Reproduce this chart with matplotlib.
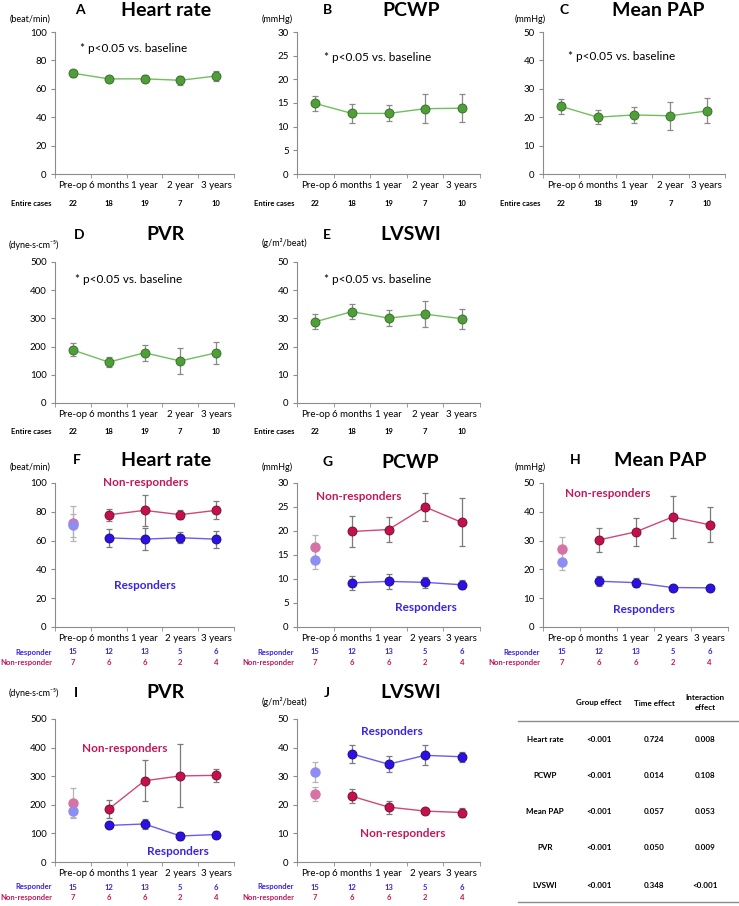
import numpy as np
import matplotlib
matplotlib.use('Agg')
from matplotlib import pyplot as plt
from matplotlib.lines import Line2D

plt.rcParams['font.family'] = ['Lato', 'DejaVu Sans']

W, H = 739, 906

# ---------------- data ----------------
times_all = ['Pre-op', '6 months', '1 year', '2 year', '3 years']
times_grp = ['Pre-op', '6 months', '1 year', '2 years', '3 years']
n_entire = [22, 18, 19, 7, 10]
n_resp = [15, 12, 13, 5, 6]
n_nonresp = [7, 6, 6, 2, 4]

# entire cases: mean and error
hr_all = [71, 67, 67, 66, 69]
hr_all_err = [2.5, 2, 2.5, 3, 3.5]
pcwp_all = [14.9, 12.8, 12.8, 13.8, 13.9]
pcwp_all_err = [1.6, 2.0, 1.7, 3.0, 2.9]
mpap_all = [23.8, 20.0, 20.8, 20.5, 22.2]
mpap_all_err = [2.5, 2.5, 2.8, 4.9, 4.4]
pvr_all = [188, 145, 178, 149, 178]
pvr_all_err = [23, 19, 29, 47, 38]
lvswi_all = [28.8, 32.4, 30.1, 31.5, 29.9]
lvswi_all_err = [2.6, 2.7, 2.8, 4.5, 3.6]

# responders / non-responders (first value = pre-op)
hr_r = [70.7, 61.9, 61, 62, 61]
hr_r_err = [8, 6, 7.5, 4, 5.8]
hr_nr = [71.9, 77.9, 81, 78, 81]
hr_nr_err = [12, 4, 11, 3.3, 6.2]
pcwp_r = [14.05, 9.2, 9.5, 9.3, 8.8]
pcwp_r_err = [2.0, 1.5, 1.5, 1.1, 0.95]
pcwp_nr = [16.7, 19.9, 20.3, 25.0, 21.8]
pcwp_nr_err = [2.5, 3.2, 2.6, 3.0, 5.0]
mpap_r = [22.7, 15.9, 15.4, 13.7, 13.6]
mpap_r_err = [3.0, 1.7, 1.6, 0.7, 0.5]
mpap_nr = [27.0, 30.2, 33.0, 38.2, 35.5]
mpap_nr_err = [4.2, 4.3, 5.0, 7.2, 6.0]
pvr_r = [180, 128, 133, 91, 96]
pvr_r_err = [25, 8, 17, 14, 13]
pvr_nr = [207, 185, 284, 301, 303]
pvr_nr_err = [50, 31, 72, 110, 22]
lvswi_r = [31.5, 37.8, 34.2, 37.3, 36.8]
lvswi_r_err = [3.4, 3.1, 2.9, 3.5, 1.7]
lvswi_nr = [23.8, 23.0, 19.2, 17.8, 17.3]
lvswi_nr_err = [2.3, 2.5, 2.3, 0.9, 1.7]

table_rows = ['Heart rate', 'PCWP', 'Mean PAP', 'PVR', 'LVSWI']
group_effect = ['<0.001', '<0.001', '<0.001', '<0.001', '<0.001']
time_effect = ['0.724', '0.014', '0.057', '0.050', '0.348']
interaction_effect = ['0.008', '0.108', '0.053', '0.009', '<0.001']

# ---------------- styles ----------------
GREEN, GREEN_EDGE, GREEN_LINE = '#4f9e3a', '#2f6a22', '#72bd5e'
RED, RED_EDGE, RED_LINE = '#c4104c', '#6e0a2c', '#d0477a'
BLUE, BLUE_EDGE, BLUE_LINE = '#2c10e4', '#170a7a', '#6a5cf0'
PINK_PRE, BLUE_PRE = '#d672a4', '#8e8ef2'
R_TXT, NR_TXT = '#3a22e6', '#c2185a'
SPINE = '#8c8c8c'

fig = plt.figure(figsize=(W / 100, H / 100), dpi=100)


def fx(px):
    return px / W


def fy(py):
    return 1 - py / H


def make_ax(left, top, right, bottom, ymax, ystep, labels):
    ax = fig.add_axes([fx(left), fy(bottom), (right - left) / W, (bottom - top) / H])
    ax.set_xlim(-0.5, 4.5)
    ax.set_ylim(0, ymax)
    ax.set_yticks(np.arange(0, ymax + 1e-9, ystep))
    ax.set_xticks(range(5))
    ax.set_xticklabels(labels, fontsize=7)
    ax.set_xticks(np.arange(-0.5, 5, 1), minor=True)
    ax.tick_params(axis='x', which='major', length=0, pad=5)
    ax.tick_params(axis='x', which='minor', length=3, color=SPINE)
    ax.tick_params(axis='y', length=3, pad=3, labelsize=7, color=SPINE)
    for s in ['top', 'right']:
        ax.spines[s].set_visible(False)
    for s in ['left', 'bottom']:
        ax.spines[s].set_color(SPINE)
        ax.spines[s].set_linewidth(0.8)
    return ax


def heads(letter, lx, title, tx, y, unit, ux, uy):
    fig.text(fx(lx), fy(y), letter, fontsize=10, fontweight='bold', ha='center', va='center')
    fig.text(fx(tx), fy(y), title, fontsize=14, fontweight='bold', ha='center', va='center')
    fig.text(fx(ux), fy(uy), unit, fontsize=6.5, ha='left', va='center')


def counts(ax, rows, dy0):
    # rows: list of (label, numbers, colour)
    for k, (lab, nums, col) in enumerate(rows):
        off = -dy0 - 10.5 * k
        ax.annotate(lab, xy=(-0.5, 0), xycoords=('data', 'axes fraction'),
                    xytext=(-3, off), textcoords='offset pixels', ha='right', va='center',
                    fontsize=5.5, fontweight='bold', color=col)
        for i, n in enumerate(nums):
            ax.annotate(str(n), xy=(i, 0), xycoords=('data', 'axes fraction'),
                        xytext=(0, off), textcoords='offset pixels', ha='center', va='center',
                        fontsize=5.5, fontweight='bold', color=col)


def plot_all(ax, y, err, px, py):
    x = np.arange(5)
    ax.errorbar(x, y, yerr=err, fmt='none', ecolor='#8a8a8a', elinewidth=0.9,
                capsize=2.2, capthick=0.9, zorder=2)
    ax.plot(x, y, color=GREEN_LINE, lw=1, marker='o', ms=6.5, mfc=GREEN,
            mec=GREEN_EDGE, mew=0.6, zorder=3)
    ax.text(px, py, '* p<0.05 vs. baseline', fontsize=8.5, ha='left', va='center')
    counts(ax, [('Entire cases', n_entire, 'black')], 29)


def plot_groups(ax, r, r_err, nr, nr_err, nr_pos, r_pos):
    x = np.arange(1, 5)
    ax.errorbar([0, 0], [nr[0], r[0]], yerr=[nr_err[0], r_err[0]], fmt='none',
                ecolor='#b4b4b4', elinewidth=0.9, capsize=2.2, capthick=0.9, zorder=2)
    ax.plot(0, nr[0], 'o', ms=6.5, mfc=PINK_PRE, mec=PINK_PRE, zorder=3)
    ax.plot(0, r[0], 'o', ms=6.5, mfc=BLUE_PRE, mec=BLUE_PRE, zorder=3)
    for vals, errs, c, ce, cl in [(nr, nr_err, RED, RED_EDGE, RED_LINE),
                                  (r, r_err, BLUE, BLUE_EDGE, BLUE_LINE)]:
        ax.errorbar(x, vals[1:], yerr=errs[1:], fmt='none', ecolor='#7a7a7a',
                    elinewidth=0.9, capsize=2.2, capthick=0.9, zorder=2)
        ax.plot(x, vals[1:], color=cl, lw=1, marker='o', ms=6.5, mfc=c, mec=ce,
                mew=0.6, zorder=3)
    ax.text(nr_pos[0], nr_pos[1], 'Non-responders', color=NR_TXT, fontsize=8.5,
            fontweight='bold', ha='center', va='center')
    ax.text(r_pos[0], r_pos[1], 'Responders', color=R_TXT, fontsize=8.5,
            fontweight='bold', ha='center', va='center')
    counts(ax, [('Responder', n_resp, R_TXT), ('Non-responder', n_nonresp, NR_TXT)], 25)


DYNE = '(dyne\u00b7s\u00b7cm\u207b\u2075)'
LV_UNIT = '(g/m\u00b2/beat)'

# ---- row 1 ----
ax = make_ax(55, 32, 234, 174, 100, 20, times_all)
plot_all(ax, hr_all, hr_all_err, 0.19, 88.5)
heads('A', 80, 'Heart rate', 166, 10, '(beat/min)', 10, 19)

ax = make_ax(297, 32, 480, 174, 30, 5, times_all)
plot_all(ax, pcwp_all, pcwp_all_err, 0.25, 24.7)
heads('B', 327, 'PCWP', 411, 10, '(mmHg)', 262, 19)

ax = make_ax(543, 32, 725, 174, 50, 10, times_all)
plot_all(ax, mpap_all, mpap_all_err, 0.18, 41.2)
heads('C', 564, 'Mean PAP', 658, 10, '(mmHg)', 515, 19)

# ---- row 2 ----
ax = make_ax(55, 262, 234, 403, 500, 100, times_all)
plot_all(ax, pvr_all, pvr_all_err, 0.05, 437)
heads('D', 79, 'PVR', 165, 235, DYNE, 9, 245)

ax = make_ax(297, 262, 480, 403, 50, 10, times_all)
plot_all(ax, lvswi_all, lvswi_all_err, 0.25, 43.9)
heads('E', 327, 'LVSWI', 411, 235, LV_UNIT, 262, 243)

# ---- row 3 ----
ax = make_ax(55, 483, 234, 627, 100, 20, times_grp)
plot_groups(ax, hr_r, hr_r_err, hr_nr, hr_nr_err, (2.04, 100), (2.0, 28.6))
heads('F', 77, 'Heart rate', 166, 460, '(beat/min)', 10, 467)

ax = make_ax(297, 483, 480, 627, 30, 5, times_grp)
plot_groups(ax, pcwp_r, pcwp_r_err, pcwp_nr, pcwp_nr_err, (1.18, 27.1), (3.03, 4.1))
heads('G', 328, 'PCWP', 410, 462, '(mmHg)', 262, 467)

ax = make_ax(543, 483, 728, 627, 50, 10, times_grp)
plot_groups(ax, mpap_r, mpap_r_err, mpap_nr, mpap_nr_err, (1.24, 46.5), (2.23, 6.2))
heads('H', 575, 'Mean PAP', 660, 460, '(mmHg)', 515, 467)

# ---- row 4 ----
ax = make_ax(55, 719, 234, 862, 500, 100, times_grp)
plot_groups(ax, pvr_r, pvr_r_err, pvr_nr, pvr_nr_err, (1.46, 398), (2.93, 37.5))
heads('I', 76, 'PVR', 165, 693, DYNE, 9, 693)

ax = make_ax(297, 719, 480, 862, 50, 10, times_grp)
plot_groups(ax, lvswi_r, lvswi_r_err, lvswi_nr, lvswi_nr_err, (2.39, 10), (2.09, 45.7))
heads('J', 327, 'LVSWI', 411, 693, LV_UNIT, 262, 702)

# ---- table ----
col_x = [545, 599, 654, 705]
fig.text(fx(col_x[1]), fy(703), 'Group effect', fontsize=5.8, fontweight='bold', ha='center', va='center')
fig.text(fx(col_x[2]), fy(703), 'Time effect', fontsize=5.8, fontweight='bold', ha='center', va='center')
fig.text(fx(col_x[3]), fy(703), 'Interaction\neffect', fontsize=5.8, fontweight='bold',
         ha='center', va='center', linespacing=1.5)
fig.add_artist(Line2D([fx(518), 1.0], [fy(721), fy(721)], color='#8c8c8c', lw=1))
fig.add_artist(Line2D([fx(518), 1.0], [fy(902), fy(902)], color='#8c8c8c', lw=1))
row_y = [740, 776, 812, 848, 885]
for k, yy in enumerate(row_y):
    vals = [table_rows[k], group_effect[k], time_effect[k], interaction_effect[k]]
    for cx, v in zip(col_x, vals):
        fig.text(fx(cx), fy(yy), v, fontsize=5.8, fontweight='bold', ha='center', va='center')

fig.savefig('out.png', dpi=100)
